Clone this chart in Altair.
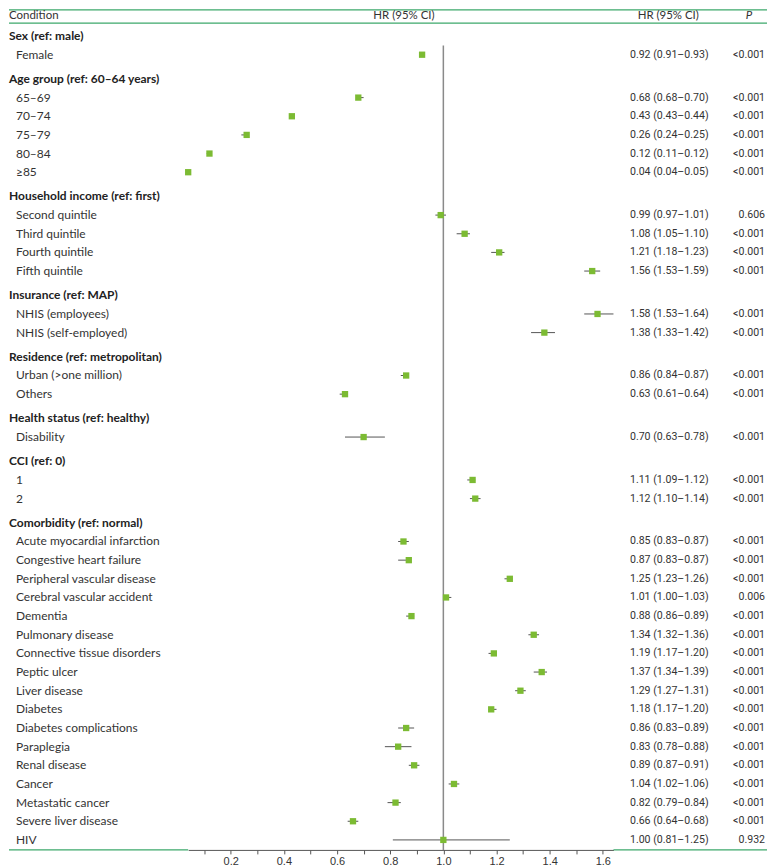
import altair as alt
import pandas as pd

# ---------------- data ----------------
groups = [
    "Sex (ref: male)",
    "Age group (ref: 60–64 years)",
    "Household income (ref: first)",
    "Insurance (ref: MAP)",
    "Residence (ref: metropolitan)",
    "Health status (ref: healthy)",
    "CCI (ref: 0)",
    "Comorbidity (ref: normal)",
]
group_items = [
    ["Female"],
    ["65–69", "70–74", "75–79", "80–84", "≥85"],
    ["Second quintile", "Third quintile", "Fourth quintile", "Fifth quintile"],
    ["NHIS (employees)", "NHIS (self-employed)"],
    ["Urban (>one million)", "Others"],
    ["Disability"],
    ["1", "2"],
    ["Acute myocardial infarction", "Congestive heart failure", "Peripheral vascular disease",
     "Cerebral vascular accident", "Dementia", "Pulmonary disease", "Connective tissue disorders",
     "Peptic ulcer", "Liver disease", "Diabetes", "Diabetes complications", "Paraplegia",
     "Renal disease", "Cancer", "Metastatic cancer", "Severe liver disease", "HIV"],
]
hr = [0.92,
      0.68, 0.43, 0.26, 0.12, 0.04,
      0.99, 1.08, 1.21, 1.56,
      1.58, 1.38,
      0.86, 0.63,
      0.70,
      1.11, 1.12,
      0.85, 0.87, 1.25, 1.01, 0.88, 1.34, 1.19, 1.37, 1.29, 1.18, 0.86, 0.83, 0.89, 1.04, 0.82, 0.66, 1.00]
lo = [0.91,
      0.68, 0.43, 0.24, 0.11, 0.04,
      0.97, 1.05, 1.18, 1.53,
      1.53, 1.33,
      0.84, 0.61,
      0.63,
      1.09, 1.10,
      0.83, 0.83, 1.23, 1.00, 0.86, 1.32, 1.17, 1.34, 1.27, 1.17, 0.83, 0.78, 0.87, 1.02, 0.79, 0.64, 0.81]
hi = [0.93,
      0.70, 0.44, 0.25, 0.12, 0.05,
      1.01, 1.10, 1.23, 1.59,
      1.64, 1.42,
      0.87, 0.64,
      0.78,
      1.12, 1.14,
      0.87, 0.87, 1.26, 1.03, 0.89, 1.36, 1.20, 1.39, 1.31, 1.20, 0.89, 0.88, 0.91, 1.06, 0.84, 0.68, 1.25]
pvals = ["<0.001",
         "<0.001", "<0.001", "<0.001", "<0.001", "<0.001",
         "0.606", "<0.001", "<0.001", "<0.001",
         "<0.001", "<0.001",
         "<0.001", "<0.001",
         "<0.001",
         "<0.001", "<0.001",
         "<0.001", "<0.001", "<0.001", "0.006", "<0.001", "<0.001", "<0.001", "<0.001", "<0.001",
         "<0.001", "<0.001", "<0.001", "<0.001", "<0.001", "<0.001", "<0.001", "0.932"]
col_headers = ["Condition", "HR (95% CI)", "HR (95% CI)", "P"]
axis_ticks = [0.1, 0.2, 0.3, 0.4, 0.5, 0.6, 0.7, 0.8, 0.9, 1.0, 1.1, 1.2, 1.3, 1.4, 1.5, 1.6]
ref_value = [1.0]

# ---------------- layout ----------------
W = 760
H = 843
GAP = 0.3
rows = []
u = 0.0
k = 0
for gi, (g, items) in enumerate(zip(groups, group_items)):
    if gi > 0:
        u += GAP
    rows.append(dict(label=g, u=u, kind="header"))
    u += 1
    for it in items:
        rows.append(dict(label=it, u=u, kind="item", hr=hr[k], lo=lo[k], hi=hi[k],
                         ci=f"{hr[k]:.2f} ({lo[k]:.2f}–{hi[k]:.2f})", p=pvals[k]))
        u += 1
        k += 1
umax = u - 1
items_df = pd.DataFrame([r for r in rows if r["kind"] == "item"])
head_df = pd.DataFrame([{"label": r["label"], "u": r["u"]} for r in rows if r["kind"] == "header"])

xmin, xmax = min(lo), max(hi)
PX0 = 169.0   # chart x of value 0
PXU = 266.5   # px per unit
xr = [PX0 + PXU * xmin, PX0 + PXU * xmax]
xscale = alt.Scale(domain=[xmin, xmax], range=xr, nice=False, zero=False)
yscale = alt.Scale(domain=[0, umax], range=[27, 27 + 18.7 * umax], nice=False, zero=False)

GREEN = "#3da86b"
SQ = "#7cbb33"
TXT = "#333333"

XAX = alt.Axis(values=axis_ticks, title=None, grid=False,
               labelExpr="round(datum.value*10) % 2 == 0 ? format(datum.value, '.1f') : ''",
               domainColor="#555555", tickColor="#555555", tickSize=4,
               labelFont="Liberation Sans", labelFontSize=11, labelColor=TXT,
               labelPadding=2, labelFlush=False)


def X(f):
    return alt.X(f, scale=xscale, axis=XAX)


def Y(f):
    return alt.Y(f, scale=yscale, axis=None)


base = alt.Chart(items_df)
one = pd.DataFrame({"v": ref_value, "u0": [0.5]})


def hline(x0, x1, y):
    return alt.Chart(one).mark_rule(color=GREEN, strokeWidth=1.3).encode(
        x=alt.value(x0), x2=alt.value(x1), y=alt.value(y))


top_line = hline(0, W, 0.7)
mid_line = hline(0, W, 14)
bl_line = hline(0, xr[0], H)
br_line = hline(xr[1], W, H)

ref_line = alt.Chart(one).mark_rule(color="#8a8a8a", strokeWidth=1.5).encode(
    x=X("v:Q"), y=Y("u0:Q"), y2=alt.value(H))

ci = base.mark_rule(color="#555555", strokeWidth=1).encode(
    x=X("lo:Q"), x2="hi:Q", y=Y("u:Q"))

sq = base.mark_square(size=40, color=SQ, opacity=1).encode(x=X("hr:Q"), y=Y("u:Q"))

head_txt = alt.Chart(head_df).mark_text(align="left", baseline="middle", font="Lato",
                                        fontSize=12, fontWeight="bold", color="#222222").encode(
    x=alt.value(0), y=Y("u:Q"), text="label:N")
item_txt = base.mark_text(align="left", baseline="middle", font="Lato", fontSize=12,
                          color=TXT).encode(
    x=alt.value(7), y=Y("u:Q"), text="label:N")
ci_txt = base.mark_text(align="center", baseline="middle", font="Roboto", fontSize=10.6,
                        color=TXT).encode(
    x=alt.value(662), y=Y("u:Q"), text="ci:N")
p_txt = base.mark_text(align="right", baseline="middle", font="Roboto", fontSize=10.6,
                       color=TXT).encode(
    x=alt.value(758), y=Y("u:Q"), text="p:N")


def header(i, x, align, style="normal"):
    d = pd.DataFrame({"t": [col_headers[i]]})
    return alt.Chart(d).mark_text(align=align, baseline="middle", font="Lato", fontSize=11.5,
                                  fontStyle=style, color=TXT).encode(
        x=alt.value(x), y=alt.value(7), text="t:N")


h0 = header(0, 0, "left")
h1 = header(1, 396, "center")
h2 = header(2, 661, "center")
h3 = header(3, 742, "center", "italic")

chart = alt.layer(
    ref_line, ci, sq, top_line, mid_line, bl_line, br_line,
    head_txt, item_txt, ci_txt, p_txt, h0, h1, h2, h3
).properties(width=W, height=H, padding=0, background="white").configure_view(strokeWidth=0)

chart.save("out.html", embed_options={"renderer": "svg", "actions": False})
